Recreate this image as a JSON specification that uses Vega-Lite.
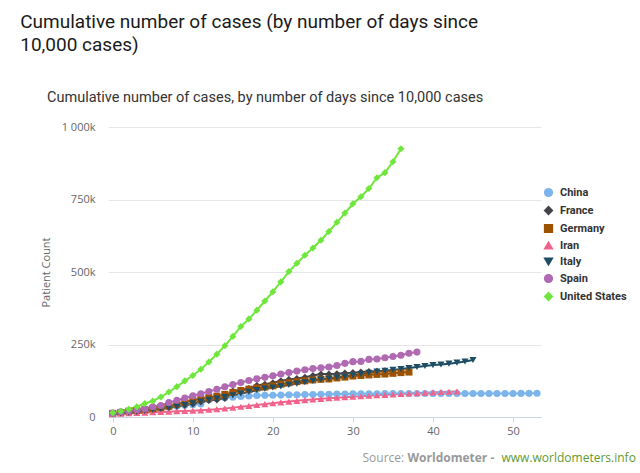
{
  "$schema": "https://vega.github.io/schema/vega-lite/v6.json",
  "background": "white",
  "padding": {"left": 20, "top": 12, "right": 0, "bottom": 15},
  "title": {
    "text": ["Cumulative number of cases (by number of days since", "10,000 cases)"],
    "anchor": "start", "frame": "bounds", "dx": -20,
    "font": "Roboto", "fontSize": 19, "fontWeight": "normal", "color": "#1a1a1a",
    "lineHeight": 23, "offset": 35
  },
  "config": {
    "view": {"stroke": null},
    "font": "Open Sans"
  },
  "vconcat": [
    {
      "title": {
        "text": "Cumulative number of cases, by number of days since 10,000 cases",
        "anchor": "start", "frame": "group", "dx": -61,
        "font": "Roboto", "fontSize": 14.5, "fontWeight": "normal", "color": "#333333",
        "offset": 16
      },
      "width": 433,
      "height": 290,
      "data": {
        "values": [
          {"country":"China","day":0,"cases":11791},{"country":"China","day":1,"cases":14380},{"country":"China","day":2,"cases":17205},{"country":"China","day":3,"cases":20440},{"country":"China","day":4,"cases":24324},{"country":"China","day":5,"cases":28018},{"country":"China","day":6,"cases":31161},{"country":"China","day":7,"cases":34546},{"country":"China","day":8,"cases":37198},{"country":"China","day":9,"cases":40171},
          {"country":"China","day":10,"cases":42638},{"country":"China","day":11,"cases":44653},{"country":"China","day":12,"cases":59804},{"country":"China","day":13,"cases":63851},{"country":"China","day":14,"cases":66492},{"country":"China","day":15,"cases":68500},{"country":"China","day":16,"cases":70548},{"country":"China","day":17,"cases":72436},{"country":"China","day":18,"cases":74185},{"country":"China","day":19,"cases":74576},
          {"country":"China","day":20,"cases":75077},{"country":"China","day":21,"cases":75550},{"country":"China","day":22,"cases":77001},{"country":"China","day":23,"cases":77022},{"country":"China","day":24,"cases":77241},{"country":"China","day":25,"cases":77754},{"country":"China","day":26,"cases":78166},{"country":"China","day":27,"cases":78600},{"country":"China","day":28,"cases":78928},{"country":"China","day":29,"cases":79356},
          {"country":"China","day":30,"cases":79932},{"country":"China","day":31,"cases":80136},{"country":"China","day":32,"cases":80261},{"country":"China","day":33,"cases":80386},{"country":"China","day":34,"cases":80537},{"country":"China","day":35,"cases":80690},{"country":"China","day":36,"cases":80770},{"country":"China","day":37,"cases":80823},{"country":"China","day":38,"cases":80860},{"country":"China","day":39,"cases":80887},
          {"country":"China","day":40,"cases":80921},{"country":"China","day":41,"cases":80932},{"country":"China","day":42,"cases":80945},{"country":"China","day":43,"cases":80977},{"country":"China","day":44,"cases":81003},{"country":"China","day":45,"cases":81033},{"country":"China","day":46,"cases":81058},{"country":"China","day":47,"cases":81102},{"country":"China","day":48,"cases":81156},{"country":"China","day":49,"cases":81250},
          {"country":"China","day":50,"cases":81305},{"country":"China","day":51,"cases":81435},{"country":"China","day":52,"cases":81498},{"country":"China","day":53,"cases":81591},

          {"country":"France","day":0,"cases":12612},{"country":"France","day":1,"cases":14459},{"country":"France","day":2,"cases":16689},{"country":"France","day":3,"cases":19856},{"country":"France","day":4,"cases":22304},{"country":"France","day":5,"cases":25233},{"country":"France","day":6,"cases":29155},{"country":"France","day":7,"cases":32964},{"country":"France","day":8,"cases":37575},{"country":"France","day":9,"cases":40174},
          {"country":"France","day":10,"cases":44550},{"country":"France","day":11,"cases":52128},{"country":"France","day":12,"cases":56989},{"country":"France","day":13,"cases":59105},{"country":"France","day":14,"cases":64338},{"country":"France","day":15,"cases":89953},{"country":"France","day":16,"cases":92839},{"country":"France","day":17,"cases":98010},{"country":"France","day":18,"cases":109069},{"country":"France","day":19,"cases":112950},
          {"country":"France","day":20,"cases":117749},{"country":"France","day":21,"cases":124869},{"country":"France","day":22,"cases":129654},{"country":"France","day":23,"cases":132591},{"country":"France","day":24,"cases":136779},{"country":"France","day":25,"cases":143303},{"country":"France","day":26,"cases":147863},{"country":"France","day":27,"cases":147969},{"country":"France","day":28,"cases":149149},{"country":"France","day":29,"cases":151793},
          {"country":"France","day":30,"cases":152894},{"country":"France","day":31,"cases":155383},{"country":"France","day":32,"cases":156480},{"country":"France","day":33,"cases":158050},{"country":"France","day":34,"cases":159460},{"country":"France","day":35,"cases":159828},

          {"country":"Germany","day":0,"cases":12327},{"country":"Germany","day":1,"cases":15320},{"country":"Germany","day":2,"cases":19848},{"country":"Germany","day":3,"cases":22213},{"country":"Germany","day":4,"cases":24873},{"country":"Germany","day":5,"cases":29056},{"country":"Germany","day":6,"cases":32986},{"country":"Germany","day":7,"cases":37323},{"country":"Germany","day":8,"cases":43938},{"country":"Germany","day":9,"cases":50871},
          {"country":"Germany","day":10,"cases":57695},{"country":"Germany","day":11,"cases":62095},{"country":"Germany","day":12,"cases":66885},{"country":"Germany","day":13,"cases":71808},{"country":"Germany","day":14,"cases":77872},{"country":"Germany","day":15,"cases":84794},{"country":"Germany","day":16,"cases":91159},{"country":"Germany","day":17,"cases":96092},{"country":"Germany","day":18,"cases":100123},{"country":"Germany","day":19,"cases":103374},
          {"country":"Germany","day":20,"cases":107663},{"country":"Germany","day":21,"cases":113296},{"country":"Germany","day":22,"cases":118181},{"country":"Germany","day":23,"cases":122171},{"country":"Germany","day":24,"cases":124908},{"country":"Germany","day":25,"cases":127854},{"country":"Germany","day":26,"cases":130072},{"country":"Germany","day":27,"cases":131359},{"country":"Germany","day":28,"cases":134753},{"country":"Germany","day":29,"cases":137698},
          {"country":"Germany","day":30,"cases":141397},{"country":"Germany","day":31,"cases":143342},{"country":"Germany","day":32,"cases":145184},{"country":"Germany","day":33,"cases":147065},{"country":"Germany","day":34,"cases":148291},{"country":"Germany","day":35,"cases":150648},{"country":"Germany","day":36,"cases":153129},{"country":"Germany","day":37,"cases":154999},

          {"country":"Iran","day":0,"cases":10075},{"country":"Iran","day":1,"cases":11364},{"country":"Iran","day":2,"cases":12729},{"country":"Iran","day":3,"cases":13938},{"country":"Iran","day":4,"cases":14991},{"country":"Iran","day":5,"cases":16169},{"country":"Iran","day":6,"cases":17361},{"country":"Iran","day":7,"cases":18407},{"country":"Iran","day":8,"cases":19644},{"country":"Iran","day":9,"cases":20610},
          {"country":"Iran","day":10,"cases":21638},{"country":"Iran","day":11,"cases":23049},{"country":"Iran","day":12,"cases":24811},{"country":"Iran","day":13,"cases":27017},{"country":"Iran","day":14,"cases":29406},{"country":"Iran","day":15,"cases":32332},{"country":"Iran","day":16,"cases":35408},{"country":"Iran","day":17,"cases":38309},{"country":"Iran","day":18,"cases":41495},{"country":"Iran","day":19,"cases":44605},
          {"country":"Iran","day":20,"cases":47593},{"country":"Iran","day":21,"cases":50468},{"country":"Iran","day":22,"cases":53183},{"country":"Iran","day":23,"cases":55743},{"country":"Iran","day":24,"cases":58226},{"country":"Iran","day":25,"cases":60500},{"country":"Iran","day":26,"cases":62589},{"country":"Iran","day":27,"cases":64586},{"country":"Iran","day":28,"cases":66220},{"country":"Iran","day":29,"cases":68192},
          {"country":"Iran","day":30,"cases":70029},{"country":"Iran","day":31,"cases":71686},{"country":"Iran","day":32,"cases":73303},{"country":"Iran","day":33,"cases":74877},{"country":"Iran","day":34,"cases":76389},{"country":"Iran","day":35,"cases":77995},{"country":"Iran","day":36,"cases":79494},{"country":"Iran","day":37,"cases":80868},{"country":"Iran","day":38,"cases":82211},{"country":"Iran","day":39,"cases":83505},
          {"country":"Iran","day":40,"cases":84802},{"country":"Iran","day":41,"cases":85996},{"country":"Iran","day":42,"cases":87026},{"country":"Iran","day":43,"cases":88194},

          {"country":"Italy","day":0,"cases":10149},{"country":"Italy","day":1,"cases":12462},{"country":"Italy","day":2,"cases":15113},{"country":"Italy","day":3,"cases":17660},{"country":"Italy","day":4,"cases":21157},{"country":"Italy","day":5,"cases":24747},{"country":"Italy","day":6,"cases":27980},{"country":"Italy","day":7,"cases":31506},{"country":"Italy","day":8,"cases":35713},{"country":"Italy","day":9,"cases":41035},
          {"country":"Italy","day":10,"cases":47021},{"country":"Italy","day":11,"cases":53578},{"country":"Italy","day":12,"cases":59138},{"country":"Italy","day":13,"cases":63927},{"country":"Italy","day":14,"cases":69176},{"country":"Italy","day":15,"cases":74386},{"country":"Italy","day":16,"cases":80589},{"country":"Italy","day":17,"cases":86498},{"country":"Italy","day":18,"cases":92472},{"country":"Italy","day":19,"cases":97689},
          {"country":"Italy","day":20,"cases":101739},{"country":"Italy","day":21,"cases":105792},{"country":"Italy","day":22,"cases":110574},{"country":"Italy","day":23,"cases":115242},{"country":"Italy","day":24,"cases":119827},{"country":"Italy","day":25,"cases":124632},{"country":"Italy","day":26,"cases":128948},{"country":"Italy","day":27,"cases":132547},{"country":"Italy","day":28,"cases":135586},{"country":"Italy","day":29,"cases":139422},
          {"country":"Italy","day":30,"cases":143626},{"country":"Italy","day":31,"cases":147577},{"country":"Italy","day":32,"cases":152271},{"country":"Italy","day":33,"cases":156363},{"country":"Italy","day":34,"cases":159516},{"country":"Italy","day":35,"cases":162488},{"country":"Italy","day":36,"cases":165155},{"country":"Italy","day":37,"cases":168941},{"country":"Italy","day":38,"cases":172434},{"country":"Italy","day":39,"cases":175925},
          {"country":"Italy","day":40,"cases":178972},{"country":"Italy","day":41,"cases":181228},{"country":"Italy","day":42,"cases":183957},{"country":"Italy","day":43,"cases":187327},{"country":"Italy","day":44,"cases":191500},{"country":"Italy","day":45,"cases":196500},

          {"country":"Spain","day":0,"cases":13910},{"country":"Spain","day":1,"cases":17963},{"country":"Spain","day":2,"cases":20410},{"country":"Spain","day":3,"cases":25374},{"country":"Spain","day":4,"cases":28603},{"country":"Spain","day":5,"cases":35136},{"country":"Spain","day":6,"cases":39885},{"country":"Spain","day":7,"cases":49515},{"country":"Spain","day":8,"cases":57786},{"country":"Spain","day":9,"cases":65719},
          {"country":"Spain","day":10,"cases":73235},{"country":"Spain","day":11,"cases":80110},{"country":"Spain","day":12,"cases":87956},{"country":"Spain","day":13,"cases":95923},{"country":"Spain","day":14,"cases":104118},{"country":"Spain","day":15,"cases":112065},{"country":"Spain","day":16,"cases":119199},{"country":"Spain","day":17,"cases":126168},{"country":"Spain","day":18,"cases":131646},{"country":"Spain","day":19,"cases":136675},
          {"country":"Spain","day":20,"cases":141942},{"country":"Spain","day":21,"cases":148220},{"country":"Spain","day":22,"cases":153222},{"country":"Spain","day":23,"cases":158273},{"country":"Spain","day":24,"cases":163027},{"country":"Spain","day":25,"cases":166831},{"country":"Spain","day":26,"cases":170099},{"country":"Spain","day":27,"cases":172541},{"country":"Spain","day":28,"cases":177644},{"country":"Spain","day":29,"cases":184948},
          {"country":"Spain","day":30,"cases":190839},{"country":"Spain","day":31,"cases":191726},{"country":"Spain","day":32,"cases":198674},{"country":"Spain","day":33,"cases":200210},{"country":"Spain","day":34,"cases":204178},{"country":"Spain","day":35,"cases":208389},{"country":"Spain","day":36,"cases":213024},{"country":"Spain","day":37,"cases":219764},{"country":"Spain","day":38,"cases":223759},

          {"country":"United States","day":0,"cases":14250},{"country":"United States","day":1,"cases":19624},{"country":"United States","day":2,"cases":26747},{"country":"United States","day":3,"cases":35206},{"country":"United States","day":4,"cases":46442},{"country":"United States","day":5,"cases":55231},{"country":"United States","day":6,"cases":69194},{"country":"United States","day":7,"cases":85991},{"country":"United States","day":8,"cases":104686},{"country":"United States","day":9,"cases":124665},
          {"country":"United States","day":10,"cases":143025},{"country":"United States","day":11,"cases":164620},{"country":"United States","day":12,"cases":189618},{"country":"United States","day":13,"cases":216721},{"country":"United States","day":14,"cases":245540},{"country":"United States","day":15,"cases":277965},{"country":"United States","day":16,"cases":312237},{"country":"United States","day":17,"cases":337635},{"country":"United States","day":18,"cases":368196},{"country":"United States","day":19,"cases":399929},
          {"country":"United States","day":20,"cases":432132},{"country":"United States","day":21,"cases":466033},{"country":"United States","day":22,"cases":501615},{"country":"United States","day":23,"cases":530006},{"country":"United States","day":24,"cases":557571},{"country":"United States","day":25,"cases":582580},{"country":"United States","day":26,"cases":609685},{"country":"United States","day":27,"cases":639664},{"country":"United States","day":28,"cases":671425},{"country":"United States","day":29,"cases":703079},
          {"country":"United States","day":30,"cases":735086},{"country":"United States","day":31,"cases":759687},{"country":"United States","day":32,"cases":787960},{"country":"United States","day":33,"cases":825041},{"country":"United States","day":34,"cases":842629},{"country":"United States","day":35,"cases":880204},{"country":"United States","day":36,"cases":925038}
        ]
      },
      "resolve": {"axis": {"x": "independent"}},
      "layer": [
        {
          "mark": {"type": "line", "strokeWidth": 2},
          "encoding": {
            "x": {
              "field": "day", "type": "quantitative",
              "scale": {"domain": [-0.6, 53.5], "nice": false, "zero": false},
              "axis": {
                "orient": "bottom", "values": [0, 10, 20, 30, 40, 50], "grid": false,
                "domainColor": "#ccd6eb", "tickColor": "#ccd6eb", "tickSize": 5,
                "labelColor": "#666666", "labelFontSize": 11, "labelPadding": 3, "labelFont": "Open Sans",
                "title": "Source:", "titleX": 254, "titleY": 44, "titleAlign": "left", "titleBaseline": "alphabetic",
                "titleFontWeight": "normal", "titleColor": "#999999", "titleFontSize": 12, "titleFont": "Open Sans"
              }
            },
            "y": {
              "field": "cases", "type": "quantitative",
              "scale": {"domain": [0, 1000000], "nice": false},
              "axis": {
                "values": [0, 250000, 500000, 750000, 1000000],
                "labelExpr": "datum.value == 0 ? '0' : (datum.value >= 1000000 ? '1 000k' : format(datum.value / 1000, 'd') + 'k')",
                "domain": false, "ticks": false, "gridColor": "#e6e6e6", "gridWidth": 1,
                "labelColor": "#666666", "labelFontSize": 11, "labelPadding": 13, "labelFont": "Open Sans",
                "title": "Patient Count", "titleFontWeight": "normal", "titleColor": "#666666", "titleFontSize": 11,
                "titleFont": "Open Sans", "titlePadding": 10
              }
            },
            "color": {
              "field": "country", "type": "nominal",
              "scale": {
                "domain": ["China", "France", "Germany", "Iran", "Italy", "Spain", "United States"],
                "range": ["#7cb5ec", "#434348", "#9c5200", "#f0648c", "#1e4d66", "#b06ab3", "#6fe63c"]
              },
              "legend": {
                "title": null, "orient": "none", "legendX": 435, "legendY": 60,
                "labelFont": "Roboto", "labelFontSize": 11, "labelFontWeight": "bold", "labelColor": "#333333",
                "symbolSize": 60, "rowPadding": 3, "labelOffset": 6
              }
            }
          }
        },
        {
          "mark": {"type": "point", "filled": true, "opacity": 1, "size": 50},
          "encoding": {
            "x": {
              "field": "day", "type": "quantitative",
              "axis": {
                "orient": "bottom", "labels": false, "ticks": false, "domain": false, "grid": false,
                "title": "Worldometer -", "titleX": 299, "titleY": 44, "titleAlign": "left", "titleBaseline": "alphabetic",
                "titleFontWeight": "bold", "titleColor": "#999999", "titleFontSize": 12, "titleFont": "Open Sans"
              }
            },
            "y": {"field": "cases", "type": "quantitative"},
            "color": {"field": "country", "type": "nominal"},
            "shape": {
              "field": "country", "type": "nominal",
              "scale": {
                "domain": ["China", "France", "Germany", "Iran", "Italy", "Spain", "United States"],
                "range": ["circle", "diamond", "square", "triangle-up", "triangle-down", "circle", "diamond"]
              },
              "legend": {"title": null}
            }
          }
        },
        {
          "mark": {"type": "point", "opacity": 0},
          "encoding": {
            "x": {
              "field": "day", "type": "quantitative",
              "axis": {
                "orient": "bottom", "labels": false, "ticks": false, "domain": false, "grid": false,
                "title": "www.worldometers.info", "titleX": 393, "titleY": 44, "titleAlign": "left", "titleBaseline": "alphabetic",
                "titleFontWeight": "normal", "titleColor": "#5f9a30", "titleFontSize": 12, "titleFont": "Open Sans"
              }
            },
            "y": {"field": "cases", "type": "quantitative"}
          }
        }
      ]
    }
  ]
}
